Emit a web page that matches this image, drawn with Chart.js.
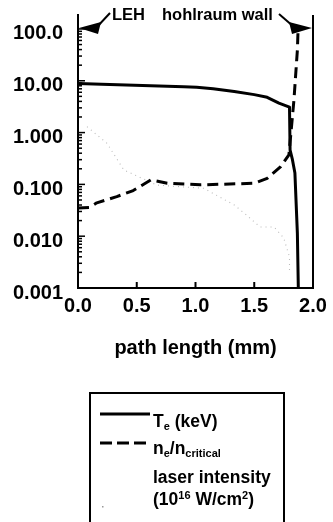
<!DOCTYPE html>
<html><head><meta charset="utf-8">
<script src="https://cdn.jsdelivr.net/npm/chart.js@4"></script>
<style>html,body{margin:0;padding:0;background:#fff}#wrap{width:333px;height:522px;position:relative}</style>
</head><body><div id="wrap"><canvas id="c" width="333" height="522"></canvas></div>
<script>
// ---- data ----
const teX = [0.00, 0.20, 0.55, 0.90, 1.01, 1.15, 1.33, 1.50, 1.61, 1.71, 1.80, 1.805, 1.825, 1.846, 1.867, 1.875];
const teY = [8.9, 8.6, 8.1, 7.7, 7.5, 7.0, 6.2, 5.4, 4.8, 3.7, 3.1, 0.46, 0.30, 0.166, 0.0114, 0.001];
const neX = [0.00, 0.10, 0.16, 0.33, 0.47, 0.62, 0.76, 1.04, 1.50, 1.61, 1.725, 1.795, 1.838, 1.867, 1.872];
const neY = [0.035, 0.036, 0.044, 0.058, 0.076, 0.122, 0.105, 0.098, 0.105, 0.131, 0.22, 0.37, 4.3, 39, 84];
const laserX = [0.077, 0.247, 0.39, 0.67, 1.07, 1.33, 1.43, 1.55, 1.67, 1.75, 1.80, 1.80];
const laserY = [1.3, 0.62, 0.19, 0.097, 0.084, 0.04, 0.026, 0.015, 0.015, 0.0093, 0.004, 0.002];
const xTickValues = [0, 0.5, 1.0, 1.5, 2.0];
const xTickLabels = ['0.0', '0.5', '1.0', '1.5', '2.0'];
const yTickValues = [0.001, 0.01, 0.1, 1, 10, 100];
const yTickLabels = ['0.001', '0.010', '0.100', '1.000', '10.00', '100.0'];
const seriesNames = ['T_e (keV)', 'n_e/n_critical', 'laser intensity (10^16 W/cm^2)'];

const FONT = '"Liberation Sans", Arial, Helvetica, sans-serif';
const pts = (xs, ys) => xs.map((x, i) => ({x, y: ys[i]}));

function drawRich(ctx, x, y, parts) {
  for (const [t, size, dy] of parts) {
    ctx.font = 'bold ' + size + 'px ' + FONT;
    ctx.fillText(t, x, y + dy);
    x += ctx.measureText(t).width;
  }
}

const extras = {
  id: 'extras',
  afterDraw(chart) {
    const ctx = chart.ctx;
    const xs = chart.scales.x, ys = chart.scales.y;
    const a = chart.chartArea;
    ctx.save();
    ctx.strokeStyle = '#000';
    ctx.fillStyle = '#000';
    ctx.lineWidth = 2;
    const xr = xs.getPixelForValue(2);
    ctx.beginPath(); ctx.moveTo(xr, a.top); ctx.lineTo(xr, a.bottom + 1); ctx.stroke();
    ctx.lineWidth = 1.5;
    const x0 = xs.getPixelForValue(0);
    for (let d = 0.001; d <= 100.5; d *= 10) {
      for (let k = 1; k <= 9; k++) {
        const v = k * d;
        if (v > ys.max) break;
        const p = ys.getPixelForValue(v);
        const len = k === 1 ? 7 : 4;
        ctx.beginPath(); ctx.moveTo(x0, p); ctx.lineTo(x0 + len, p); ctx.stroke();
      }
    }
    ctx.lineWidth = 2;
    for (const v of [0.5, 1.0, 1.5]) {
      const p = xs.getPixelForValue(v);
      ctx.beginPath(); ctx.moveTo(p, a.bottom); ctx.lineTo(p, a.bottom - 6); ctx.stroke();
    }
    ctx.textBaseline = 'alphabetic';
    ctx.textAlign = 'left';
    ctx.font = 'bold 16.5px ' + FONT;
    ctx.fillText('LEH', 112, 20);
    ctx.fillText('hohlraum wall', 162, 20);
    ctx.lineWidth = 2;
    const y100 = ys.getPixelForValue(100) - 1;
    ctx.beginPath(); ctx.moveTo(110, 13); ctx.lineTo(96, y100); ctx.stroke();
    ctx.beginPath(); ctx.moveTo(x0 + 1, y100); ctx.lineTo(101, y100 - 6); ctx.lineTo(98, y100 + 6); ctx.closePath(); ctx.fill();
    ctx.beginPath(); ctx.moveTo(279, 14); ctx.lineTo(294, y100 - 1); ctx.stroke();
    ctx.beginPath(); ctx.moveTo(xr - 1, y100); ctx.lineTo(289, y100 - 6); ctx.lineTo(292, y100 + 6); ctx.closePath(); ctx.fill();
    ctx.lineWidth = 2;
    ctx.strokeRect(90, 393, 194, 150);
    const ds = chart.data.datasets;
    const sample = (i, y) => {
      ctx.save();
      ctx.strokeStyle = ds[i].borderColor;
      ctx.lineWidth = ds[i].borderWidth;
      ctx.setLineDash(i === 1 ? [12, 5] : []);
      ctx.beginPath(); ctx.moveTo(100, y); ctx.lineTo(150, y); ctx.stroke();
      ctx.restore();
    };
    sample(0, 414);
    sample(1, 443);
    ctx.fillStyle = '#999';
    ctx.fillRect(102, 506, 1.5, 1.5);
    ctx.fillStyle = '#000';
    drawRich(ctx, 153, 427, [['T', 17.5, 0], ['e', 11, 3], [' (keV)', 17.5, 0]]);
    drawRich(ctx, 153, 454, [['n', 17.5, 0], ['e', 11, 3], ['/n', 17.5, 0], ['critical', 11, 3]]);
    drawRich(ctx, 153, 483, [['laser intensity', 17.5, 0]]);
    drawRich(ctx, 153, 505, [['(10', 17.5, 0], ['16', 11, -6], [' W/cm', 17.5, 0], ['2', 11, -6], [')', 17.5, 0]]);
    ctx.restore();
  }
};

new Chart(document.getElementById('c'), {
  type: 'line',
  data: {
    datasets: [
      {label: seriesNames[0], data: pts(teX, teY), borderColor: '#000', borderWidth: 3, pointRadius: 0, tension: 0, borderJoinStyle: 'round', borderCapStyle: 'round'},
      {label: seriesNames[1], data: pts(neX, neY), borderColor: '#000', borderWidth: 3, borderDash: [11, 6], pointRadius: 0, tension: 0, borderJoinStyle: 'round'},
      {label: seriesNames[2], data: pts(laserX, laserY), borderColor: '#bbb', borderWidth: 1.1, borderDash: [1, 4], pointRadius: 0, tension: 0}
    ]
  },
  options: {
    responsive: false,
    animation: false,
    devicePixelRatio: 1,
    layout: {padding: {left: 0, right: 20, top: 15, bottom: 162}},
    plugins: {legend: {display: false}, tooltip: {enabled: false}},
    scales: {
      x: {
        type: 'linear', min: 0, max: 2,
        afterBuildTicks: s => { s.ticks = xTickValues.map(v => ({value: v})); },
        afterFit: s => { s.height = 72; },
        ticks: {callback: (v, i) => xTickLabels[i], font: {family: FONT, size: 20, weight: 'bold'}, color: '#000', padding: 6, maxRotation: 0, autoSkip: false},
        title: {display: true, text: 'path length (mm)', font: {family: FONT, size: 20, weight: 'bold'}, color: '#000', padding: {top: 0, bottom: 0}},
        grid: {display: false, drawTicks: false},
        border: {display: true, color: '#000', width: 2}
      },
      y: {
        type: 'logarithmic', min: 0.001, max: 186,
        afterBuildTicks: s => { s.ticks = yTickValues.map(v => ({value: v})); },
        afterFit: s => { s.width = 78; s.paddingTop = 0; s.paddingBottom = 0; },
        ticks: {callback: (v, i) => yTickLabels[i], font: {family: FONT, size: 20, weight: 'bold'}, color: '#000', padding: 15, labelOffset: 5, autoSkip: false},
        grid: {display: false, drawTicks: false},
        border: {display: true, color: '#000', width: 2}
      }
    }
  },
  plugins: [extras]
});
</script></body></html>
